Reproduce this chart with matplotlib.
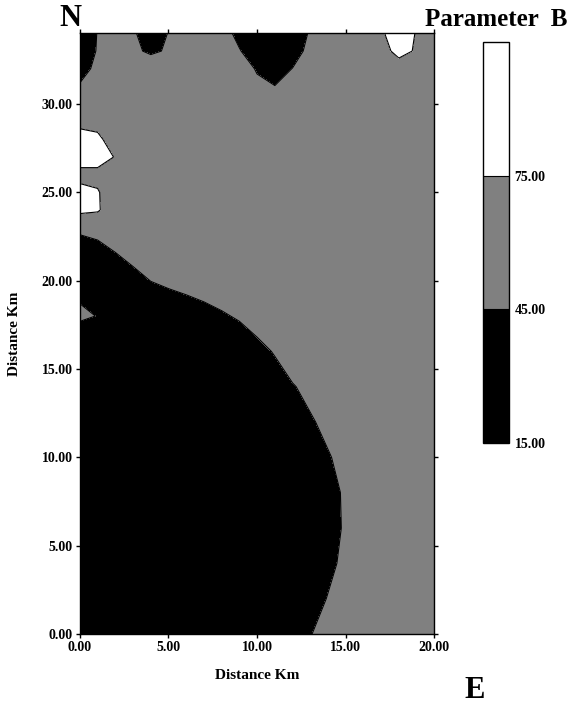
import numpy as np
import matplotlib.pyplot as plt

plt.rcParams['font.family'] = ['Liberation Serif', 'DejaVu Serif']

x_km = list(range(21))
y_km = [0, 2, 4, 6, 8, 10, 12, 14, 16, 17, 18, 19, 20, 21, 22, 23, 24, 25,
        26, 27, 28, 29, 30, 31, 32, 33, 34]

param_b = [
    [20, 20, 20, 20, 20, 20, 20, 20, 20, 24.5, 29.5, 34.5, 39.5, 44.5, 49.5, 54.5, 59.5, 60, 60, 60, 60],
    [20, 20, 20, 20, 20, 20, 20, 20, 20, 20.5, 25.5, 30.5, 35.5, 40.5, 45.5, 50.5, 55.5, 60, 60, 60, 60],
    [20] * 10 + [22.5, 27.5, 32.5, 37.5, 42.5, 47.5, 52.5, 57.5, 60, 60, 60],
    [20] * 10 + [21.25, 26.25, 31.25, 36.25, 41.25, 46.25, 51.25, 56.25, 60, 60, 60],
    [20] * 10 + [21.5, 26.5, 31.5, 36.5, 41.5, 46.5, 51.5, 56.5, 60, 60, 60],
    [20] * 10 + [24, 29, 34, 39, 44, 49, 54, 59, 60, 60, 60],
    [20] * 9 + [23.5, 28.5, 33.5, 38.5, 43.5, 48.5, 53.5, 58.5, 60, 60, 60, 60],
    [20] * 8 + [24, 29, 34, 39, 44, 49, 54, 59, 60, 60, 60, 60, 60],
    [20, 20, 20, 21, 25, 27.25, 29, 31, 33.5, 36.5, 41, 46, 53.5] + [60] * 8,
    [29, 20, 22, 26, 30, 32.25, 34, 36, 38.5, 41.5, 46, 51, 58.5] + [60] * 8,
    [52, 44, 27, 31, 35, 37.25, 39, 41, 43.5, 46.5, 51, 56, 60] + [60] * 8,
    [42, 28.5, 32, 36, 40, 42.25, 44, 46, 48.5, 51.5, 56, 60, 60] + [60] * 8,
    [32, 33.5, 37, 41, 45.2, 47.25, 49, 51, 53.5, 56.5, 60, 60, 60] + [60] * 8,
    [37, 38.5, 42, 46, 50, 52.25, 54, 56, 58.5, 60, 60, 60, 60] + [60] * 8,
    [42, 43.5, 47, 51, 55, 57.25, 59] + [60] * 14,
    [47, 48.5, 52, 56] + [60] * 17,
    [82, 78.2, 57] + [60] * 18,
    [82, 77] + [60] * 19,
    [68, 68, 62] + [60] * 18,
    [85.5, 85.5, 73.8] + [60] * 18,
    [84, 80.6, 62] + [60] * 18,
    [69, 66.6] + [60] * 19,
    [60] * 21,
    [50] + [60] * 9 + [49.7, 45.5] + [60] * 9,
    [25, 58] + [60] * 7 + [56.3, 43, 35, 45.5] + [60] * 5 + [59, 60, 60],
    [20, 47.8, 60, 49.5, 41.25, 47.5, 60, 60, 60, 47.2, 25, 22, 35, 51.7, 60, 60, 60, 62, 85.6, 71.5, 60],
    [20, 46.3, 60, 48.75, 30, 46, 60, 60, 60, 35, 20, 20, 30, 47.6, 60, 60, 60, 72.5, 85, 73.9, 60],
]

levels = [15, 45, 75, 105]
fill_colors = ['#000000', '#808080', '#ffffff']
tick_vals = [0, 5, 10, 15, 20, 25, 30]

fig = plt.figure(figsize=(5.83, 7.10), dpi=100)
ax = fig.add_axes([0.137, 0.107, 0.608, 0.846])
cax = fig.add_axes([0.8285, 0.376, 0.0446, 0.565])

cs = ax.contourf(x_km, y_km, param_b, levels=levels, colors=fill_colors)
cl = ax.contour(x_km, y_km, param_b, levels=[45, 75], colors='black', linewidths=0.8)

ax.set_xlim(0, 20)
ax.set_ylim(0, 34)
ax.set_xticks([0, 5, 10, 15, 20])
ax.set_yticks(tick_vals)
ax.xaxis.set_major_formatter('{x:.2f}')
ax.yaxis.set_major_formatter('{x:.2f}')
ax.tick_params(direction='out', length=3, width=1, labelsize=10, pad=2,
               top=True, right=True)
for lab in ax.get_xticklabels() + ax.get_yticklabels():
    lab.set_fontweight('bold')
for sp in ax.spines.values():
    sp.set_linewidth(1)

ax.set_xlabel('Distance Km', fontsize=11, fontweight='bold')
ax.set_ylabel('Distance Km', fontsize=11, fontweight='bold')
ax.xaxis.set_label_coords(0.5, -0.058)
ax.yaxis.set_label_coords(-0.165, 0.5)

cbar = fig.colorbar(cs, cax=cax, ticks=[15, 45, 75])
cbar.add_lines(cl)
cbar.ax.yaxis.set_major_formatter('{x:.2f}')
cbar.ax.tick_params(length=0, labelsize=10, pad=4)
for lab in cbar.ax.get_yticklabels():
    lab.set_fontweight('bold')
cbar.outline.set_linewidth(1)

fig.text(70 / 583, 1 - 19 / 710, 'N', ha='center', va='center',
         fontsize=22, fontweight='bold')
fig.text(496 / 583, 1 - 20 / 710, 'Parameter  B', ha='center', va='center',
         fontsize=18, fontweight='bold')
fig.text(475 / 583, 1 - 691 / 710, 'E', ha='center', va='center',
         fontsize=22, fontweight='bold')

fig.savefig('out.png', dpi=100)
